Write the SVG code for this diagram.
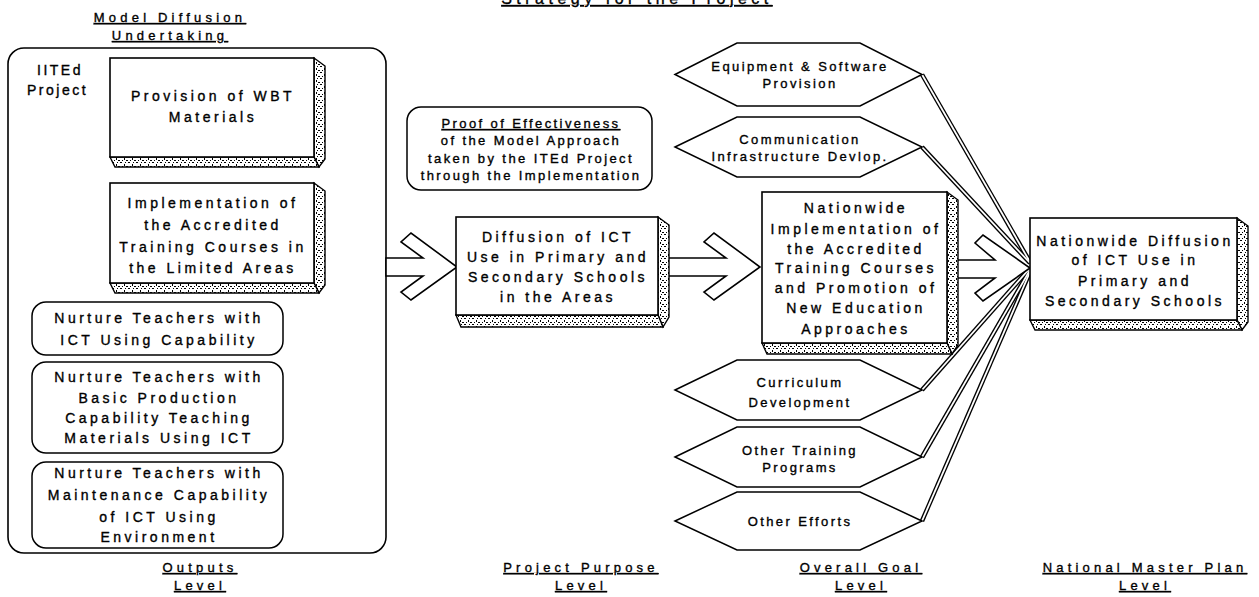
<svg xmlns="http://www.w3.org/2000/svg" width="1259" height="597" viewBox="0 0 1259 597">
<style>
text{font-family:"Liberation Sans",Arial,sans-serif;fill:#000;stroke:#000;stroke-width:0.35;text-anchor:middle}
.t{font-size:14px;letter-spacing:3.5px}
.s{font-size:13px;letter-spacing:2.4px}
.lv{font-size:13px;letter-spacing:4.2px;text-decoration:underline}
.ul{text-decoration:underline}
.front{fill:#fff;stroke:#000;stroke-width:1.6}
.tex{fill:url(#grain);stroke:#000;stroke-width:1.4}
.rnd{fill:#fff;stroke:#000;stroke-width:1.5}
.hex{fill:#fff;stroke:#000;stroke-width:1.5}
.arrow{fill:#fff;stroke:#000;stroke-width:1.6;stroke-linejoin:miter}
.dbl-o{stroke:#000;stroke-width:4.5;fill:none}
.dbl-i{stroke:#fff;stroke-width:1.8;fill:none}
</style>
<defs>
<pattern id="grain" width="8" height="6" patternUnits="userSpaceOnUse">
<rect width="8" height="6" fill="#fff"/>
<rect x="0" y="0" width="2" height="1" fill="#000"/>
<rect x="4" y="2" width="1" height="2" fill="#000"/>
<rect x="6" y="4" width="2" height="1" fill="#000"/>
<rect x="2" y="4" width="1" height="1" fill="#000"/>
<rect x="5" y="0" width="1" height="1" fill="#000"/>
</pattern>
</defs>
<rect width="1259" height="597" fill="#fff"/>

<g id="title">
<text x="637" y="4" style="font-size:16px;letter-spacing:4.5px" class="ul">Strategy for the Project</text>
</g>

<g id="model-diffusion">
<rect x="8" y="48" width="378" height="505" rx="16" ry="16" fill="none" stroke="#000" stroke-width="1.6"/>
<text x="170" y="22" class="lv">Model Diffusion</text>
<text x="170" y="40" class="lv">Undertaking</text>
<text x="37" y="75" class="t" style="text-anchor:start;letter-spacing:2.5px">IITEd</text>
<text x="27" y="95" class="t" style="text-anchor:start;letter-spacing:2.5px">Project</text>
</g>

<g id="connectors">
<g class="dbl-o">
<line x1="922" y1="74.5" x2="1030" y2="262"/>
<line x1="922" y1="147" x2="1030" y2="263"/>
<line x1="922" y1="390" x2="1030" y2="268"/>
<line x1="922" y1="457" x2="1030" y2="270"/>
<line x1="922" y1="521" x2="1030" y2="272"/>
</g>
<g class="dbl-i">
<line x1="922" y1="74.5" x2="1030" y2="262"/>
<line x1="922" y1="147" x2="1030" y2="263"/>
<line x1="922" y1="390" x2="1030" y2="268"/>
<line x1="922" y1="457" x2="1030" y2="270"/>
<line x1="922" y1="521" x2="1030" y2="272"/>
</g>
<polygon class="arrow" points="386,258 423,258 401,242 411,233 457,267 411,300 401,292 423,276 386,276"/>
<polygon class="arrow" points="660,258 726,258 704,242 714,233 760,267 714,300 704,292 726,276 660,276"/>
<polygon class="arrow" points="950,260 995,260 975,243 983,235 1030,268 983,301 975,293 995,278 950,278"/>
</g>

<g id="wbt">
<polygon class="tex" points="314,58 325,66 325,159 319,167 314,157"/>
<polygon class="tex" points="110,157 115,167 319,167 314,157"/>
<rect class="front" x="110" y="58" width="204" height="99"/>
<text x="213" y="101" class="t">Provision of WBT</text>
<text x="213" y="122" class="t">Materials</text>
</g>

<g id="accredited-limited">
<polygon class="tex" points="314,183 325,191 325,285 319,293 314,283"/>
<polygon class="tex" points="110,283 115,293 319,293 314,283"/>
<rect class="front" x="110" y="183" width="204" height="100"/>
<text x="213" y="208" class="t">Implementation of</text>
<text x="213" y="230" class="t">the Accredited</text>
<text x="213" y="252" class="t">Training Courses in</text>
<text x="213" y="273" class="t">the Limited Areas</text>
</g>

<g id="nurture-ict">
<rect class="rnd" x="32" y="302" width="251" height="53" rx="14"/>
<text x="159" y="323" class="t">Nurture Teachers with</text>
<text x="159" y="345" class="t">ICT Using Capability</text>
</g>

<g id="nurture-production">
<rect class="rnd" x="32" y="362" width="251" height="91" rx="14"/>
<text x="159" y="382" class="t">Nurture Teachers with</text>
<text x="159" y="403" class="t">Basic Production</text>
<text x="159" y="423" class="t">Capability Teaching</text>
<text x="159" y="443" class="t">Materials Using ICT</text>
</g>

<g id="nurture-maintenance">
<rect class="rnd" x="32" y="462" width="251" height="86" rx="14"/>
<text x="159" y="478" class="t">Nurture Teachers with</text>
<text x="159" y="500" class="t">Maintenance Capability</text>
<text x="159" y="522" class="t">of ICT Using</text>
<text x="159" y="542" class="t">Environment</text>
</g>

<g id="proof">
<rect class="rnd" x="407" y="107" width="245" height="83" rx="14"/>
<text x="531" y="128" class="s ul">Proof of Effectiveness</text>
<text x="531" y="145" class="s">of the Model Approach</text>
<text x="531" y="163" class="s">taken by the ITEd Project</text>
<text x="531" y="180" class="s">through the Implementation</text>
</g>

<g id="project-purpose">
<polygon class="tex" points="658,217 669,225 669,317 663,327 658,315"/>
<polygon class="tex" points="456,315 461,327 663,327 658,315"/>
<rect class="front" x="456" y="217" width="202" height="98"/>
<text x="558" y="242" class="t">Diffusion of ICT</text>
<text x="558" y="262" class="t">Use in Primary and</text>
<text x="558" y="282" class="t">Secondary Schools</text>
<text x="558" y="302" class="t">in the Areas</text>
</g>

<g id="overall-goal">
<polygon class="tex" points="947,192 958,200 958,345 952,354 947,343"/>
<polygon class="tex" points="762,343 767,354 952,354 947,343"/>
<rect class="front" x="762" y="192" width="185" height="151"/>
<text x="856" y="213" class="t">Nationwide</text>
<text x="856" y="234" class="t">Implementation of</text>
<text x="856" y="254" class="t">the Accredited</text>
<text x="856" y="273" class="t">Training Courses</text>
<text x="856" y="293" class="t">and Promotion of</text>
<text x="856" y="313" class="t">New Education</text>
<text x="856" y="334" class="t">Approaches</text>
</g>

<g id="national">
<polygon class="tex" points="1237,218 1248,226 1248,322 1242,330 1237,320"/>
<polygon class="tex" points="1030,320 1035,330 1242,330 1237,320"/>
<rect class="front" x="1030" y="218" width="207" height="102"/>
<text x="1135" y="246" class="t">Nationwide Diffusion</text>
<text x="1135" y="265" class="t">of ICT Use in</text>
<text x="1135" y="286" class="t">Primary and</text>
<text x="1135" y="306" class="t">Secondary Schools</text>
</g>

<g id="equipment">
<polygon class="hex" points="675,74.5 737,43 860,43 922,74.5 860,106 737,106"/>
<text x="800" y="71" class="s">Equipment &amp; Software</text>
<text x="800" y="88" class="s">Provision</text>
</g>
<g id="communication">
<polygon class="hex" points="675,147 737,117 860,117 922,147 860,177 737,177"/>
<text x="800" y="144" class="s">Communication</text>
<text x="800" y="161" class="s">Infrastructure Devlop.</text>
</g>
<g id="curriculum">
<polygon class="hex" points="675,390 737,360 860,360 922,390 860,420 737,420"/>
<text x="800" y="387" class="s">Curriculum</text>
<text x="800" y="407" class="s">Development</text>
</g>
<g id="other-training">
<polygon class="hex" points="675,457 737,427 860,427 922,457 860,487 737,487"/>
<text x="800" y="455" class="s">Other Training</text>
<text x="800" y="472" class="s">Programs</text>
</g>
<g id="other-efforts">
<polygon class="hex" points="675,521 737,492 860,492 922,521 860,550 737,550"/>
<text x="800" y="526" class="s">Other Efforts</text>
</g>

<g id="levels">
<text x="200" y="572" class="lv">Outputs</text>
<text x="200" y="590" class="lv">Level</text>
<text x="581" y="572" class="lv">Project Purpose</text>
<text x="581" y="590" class="lv">Level</text>
<text x="861" y="572" class="lv">Overall Goal</text>
<text x="861" y="590" class="lv">Level</text>
<text x="1145" y="572" class="lv">National Master Plan</text>
<text x="1145" y="590" class="lv">Level</text>
</g>
</svg>
